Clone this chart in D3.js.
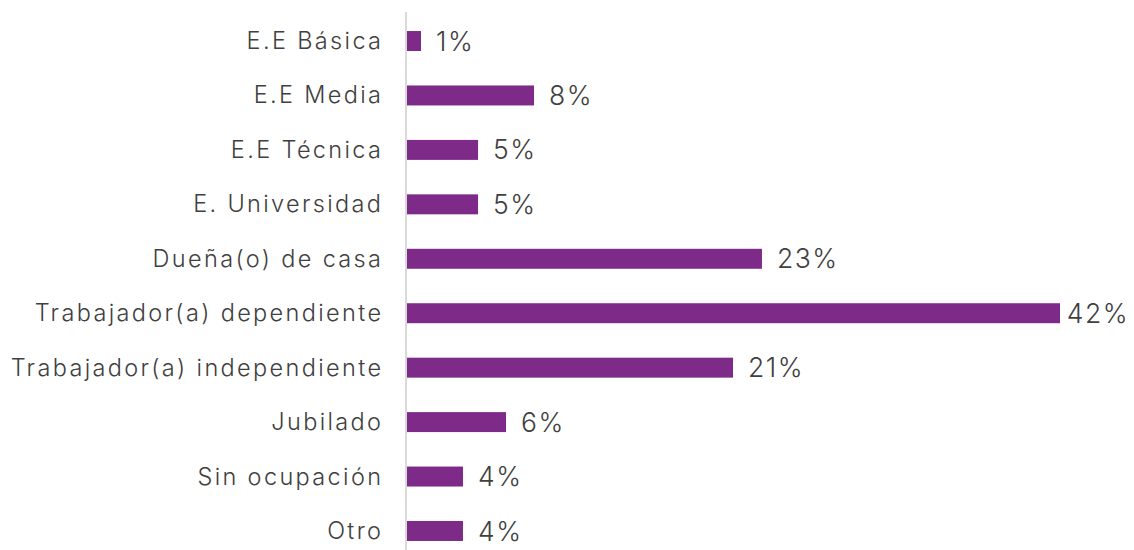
<!DOCTYPE html>
<html>
<head>
<meta charset="utf-8">
<script src="https://cdn.jsdelivr.net/npm/d3@7"></script>
<style>
  html, body { margin: 0; padding: 0; background: #ffffff; }
  svg { display: block; }
</style>
</head>
<body>
<svg id="chart" width="1134" height="550"></svg>
<script>
const categories = [
  "E.E Básica",
  "E.E Media",
  "E.E Técnica",
  "E. Universidad",
  "Dueña(o) de casa",
  "Trabajador(a) dependiente",
  "Trabajador(a) independiente",
  "Jubilado",
  "Sin ocupación",
  "Otro"
];
const values = [0.9, 8.17, 4.57, 4.57, 22.83, 42.0, 20.97, 6.37, 3.6, 3.6];

const W = 1134, H = 550;
const svg = d3.select("#chart");

const x0 = 407;
const x = d3.scaleLinear().domain([0, 42]).range([x0, 1060]);
const y = d3.scaleBand().domain(categories).range([13.8, 558.2]).padding(0);
const barH = y.bandwidth() * 0.367;

const textColor = "#404040";
const barColor = "#7e2a89";
const catLS = 2.35;

// bars
svg.append("g")
  .selectAll("rect")
  .data(categories)
  .join("rect")
  .attr("x", x(0))
  .attr("y", (d) => y(d) + y.bandwidth() / 2 - barH / 2)
  .attr("width", (d, i) => x(values[i]) - x(0))
  .attr("height", barH)
  .attr("fill", barColor);

// category axis
const yAxis = d3.axisLeft(y).tickSize(0).tickPadding(25);
const gAxis = svg.append("g")
  .attr("transform", `translate(${x0 - 1},0)`)
  .call(yAxis);
gAxis.select(".domain").remove();
gAxis.append("line")
  .attr("x1", 0).attr("x2", 0)
  .attr("y1", 12).attr("y2", H)
  .attr("stroke", "#d9d9d9")
  .attr("stroke-width", 2);
gAxis.selectAll(".tick text")
  .attr("fill", textColor)
  .attr("font-family", "Inter, sans-serif")
  .attr("font-size", 23.5)
  .attr("font-weight", 300)
  .attr("letter-spacing", catLS + "px")
  .attr("dy", "0.34em")
  .attr("dx", catLS + "px");

// value labels
const fmt = d3.format(".0%");
const labels = svg.append("g")
  .selectAll("text")
  .data(categories)
  .join("text")
  .attr("x", (d, i) => x(values[i]) + 15)
  .attr("y", (d) => y(d) + y.bandwidth() / 2)
  .attr("dy", "0.36em")
  .attr("fill", textColor)
  .attr("font-family", "Inter, sans-serif")
  .attr("font-size", 26.5)
  .attr("font-weight", 300)
  .attr("letter-spacing", "1.5px")
  .text((d, i) => fmt(values[i] / 100));

// keep labels inside the chart area (as the original does for the longest bar)
labels.each(function () {
  const el = d3.select(this);
  const w = this.getComputedTextLength();
  const xr = +el.attr("x");
  if (xr + w > W - 5) el.attr("x", W - 5 - w);
});
</script>
</body>
</html>
